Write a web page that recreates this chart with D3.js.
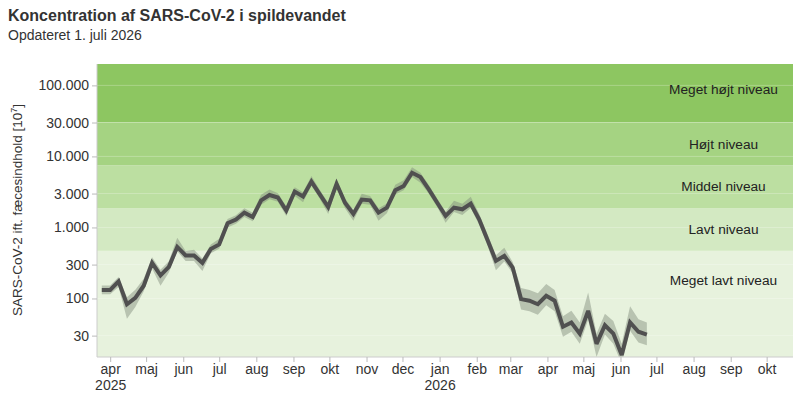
<!DOCTYPE html>
<html><head><meta charset="utf-8">
<script src="https://cdn.jsdelivr.net/npm/d3@7"></script>
<style>body{margin:0;background:#fff;font-family:"Liberation Sans",Arial,sans-serif;}</style>
</head><body><svg id="c" width="800" height="400"></svg>
<script>
const dates = ["2025-03-25","2025-04-01","2025-04-08","2025-04-15","2025-04-22","2025-04-29","2025-05-06","2025-05-13","2025-05-20","2025-05-27","2025-06-03","2025-06-10","2025-06-17","2025-06-24","2025-07-01","2025-07-08","2025-07-15","2025-07-22","2025-07-29","2025-08-05","2025-08-12","2025-08-19","2025-08-26","2025-09-02","2025-09-09","2025-09-16","2025-09-23","2025-09-30","2025-10-07","2025-10-14","2025-10-21","2025-10-28","2025-11-04","2025-11-11","2025-11-18","2025-11-25","2025-12-02","2025-12-09","2025-12-16","2025-12-23","2025-12-30","2026-01-06","2026-01-13","2026-01-20","2026-01-27","2026-02-03","2026-02-10","2026-02-17","2026-02-24","2026-03-03","2026-03-10","2026-03-17","2026-03-24","2026-03-31","2026-04-07","2026-04-14","2026-04-21","2026-04-28","2026-05-05","2026-05-12","2026-05-19","2026-05-26","2026-06-02","2026-06-09","2026-06-16","2026-06-23"];
const values = [132,132,174,83,102,151,317,212,279,532,404,404,317,499,577,1146,1295,1614,1404,2410,2860,2640,1733,3200,2725,4430,2927,1940,4120,2230,1548,2473,2410,1614,1897,3330,3828,5885,5120,3440,2230,1452,1897,1802,2160,1304,667,338,398,272,98,93,83,109,93,40,46,32,67,23,42,32,16,46,34,31];
const upper = [152,152,200,104,133,189,380,254,335,718,465,485,365,574,692,1318,1489,1856,1615,2890,3430,3035,1993,3680,3135,5316,3366,2230,4740,2565,1780,2970,2770,1856,2180,4000,4600,7060,5890,3955,2565,1670,2370,2160,2700,1565,800,406,517,326,140,132,118,160,132,56,67,46,121,32,61,48,23,78,51,46];
const lower = [115,115,145,52,76,126,264,151,232,463,337,337,244,434,502,997,1126,1403,1221,2095,2490,2295,1444,2780,2270,3850,2545,1552,3580,1860,1238,2150,2095,1242,1580,2900,3330,5120,4270,2990,1940,1160,1650,1500,1880,1087,556,250,332,227,70,66,59,80,66,29,34,23,50,15,31,23,12,35,24,22];

const bandNames = ["Meget lavt niveau","Lavt niveau","Middel niveau","Højt niveau","Meget højt niveau"];
const bandLimits = [15,468.75,1875,7500,30000,200000];
const bandColors = ["#e7f2dd","#d3e9c2","#bcdfa1","#a5d382","#8dc661"];
const bandLabelAt = [180,940,3750,15000,88000];

const yTicks = [30,100,300,1000,3000,10000,30000,100000];
const yTickLabels = ["30","100","300","1.000","3.000","10.000","30.000","100.000"];
const monthTicks = ["2025-04-01","2025-05-01","2025-06-01","2025-07-01","2025-08-01","2025-09-01","2025-10-01","2025-11-01","2025-12-01","2026-01-01","2026-02-01","2026-03-01","2026-04-01","2026-05-01","2026-06-01","2026-07-01","2026-08-01","2026-09-01","2026-10-01"];
const monthLabels = ["apr","maj","jun","jul","aug","sep","okt","nov","dec","jan","feb","mar","apr","maj","jun","jul","aug","sep","okt"];
const yearLabels = {"2025-04-01":"2025","2026-01-01":"2026"};
const xDomain = ["2025-03-21","2026-10-23"];

const FONT = "Liberation Sans, Arial, sans-serif";
const parse = d3.utcParse("%Y-%m-%d");
const svg = d3.select("#c");
const L=97, R=793, T=64, B=357;
const x = d3.scaleUtc().domain(xDomain.map(parse)).range([L,R]);
const y = d3.scaleLog().domain([15,200000]).range([B,T]);

const g = svg.append("g");
g.selectAll("rect.band").data(bandColors).join("rect")
  .attr("x",L).attr("width",R-L)
  .attr("y",(c,i)=>y(bandLimits[i+1])).attr("height",(c,i)=>y(bandLimits[i])-y(bandLimits[i+1]))
  .attr("fill",c=>c);
g.selectAll("line.grid").data(yTicks).join("line")
  .attr("x1",L).attr("x2",R).attr("y1",d=>y(d)).attr("y2",d=>y(d))
  .attr("stroke","#ffffff").attr("stroke-opacity",0.25).attr("stroke-width",1);
g.selectAll("text.bl").data(bandNames).join("text")
  .attr("x",723.5).attr("y",(d,i)=>y(bandLabelAt[i])).attr("dy","0.35em")
  .attr("text-anchor","middle").attr("font-size",13.7).attr("fill","#222").text(d=>d);

const data = dates.map((d,i)=>({t:parse(d),v:values[i],lo:lower[i],hi:upper[i]}));
svg.append("clipPath").attr("id","pc").append("rect").attr("x",L).attr("y",T).attr("width",R-L).attr("height",B-T);
const pg = svg.append("g").attr("clip-path","url(#pc)");
pg.append("path").datum(data)
  .attr("d",d3.area().x(d=>x(d.t)).y0(d=>y(d.lo)).y1(d=>y(d.hi)))
  .attr("fill","#7f8a7a").attr("fill-opacity",0.45);
pg.append("path").datum(data)
  .attr("d",d3.line().x(d=>x(d.t)).y(d=>y(d.v)))
  .attr("fill","none").attr("stroke","#505050").attr("stroke-width",4).attr("stroke-linejoin","miter").attr("stroke-miterlimit",3);

const yAxis = d3.axisLeft(y).tickValues(yTicks).tickFormat((d,i)=>yTickLabels[i]).tickSize(5).tickPadding(3);
const ya = svg.append("g").attr("transform",`translate(${L},0)`).call(yAxis);
ya.select(".domain").attr("stroke","#cccccc").attr("d",`M0,${T}V${B}`);
ya.selectAll(".tick line").attr("stroke","#bbbbbb");
ya.selectAll(".tick text").attr("font-size",14).attr("fill","#333").attr("font-family",FONT);

const xAxis = d3.axisBottom(x).tickValues(monthTicks.map(parse)).tickFormat((d,i)=>monthLabels[i]).tickSize(5).tickPadding(2);
const xa = svg.append("g").attr("transform",`translate(0,${B})`).call(xAxis);
xa.select(".domain").attr("stroke","#cccccc").attr("d",`M${L},0H${R}`);
xa.selectAll(".tick line").attr("stroke","#bbbbbb");
xa.selectAll(".tick text").attr("font-size",14).attr("fill","#333").attr("font-family",FONT);
xa.selectAll(".tick").each(function(d,i){
  const lab = yearLabels[monthTicks[i]];
  if(lab) d3.select(this).append("text").attr("y",23).attr("dy","0.71em").attr("fill","#333")
    .attr("font-size",14).attr("text-anchor","middle").attr("font-family",FONT).text(lab);
});

svg.append("text").attr("x",8).attr("y",21).attr("font-size",16).attr("font-weight","bold").attr("fill","#333").text("Koncentration af SARS-CoV-2 i spildevandet");
svg.append("text").attr("x",8).attr("y",40).attr("font-size",14).attr("fill","#333").text("Opdateret 1. juli 2026");
const yl = svg.append("text").attr("transform","translate(22,210) rotate(-90)").attr("text-anchor","middle").attr("font-size",13.5).attr("fill","#333");
yl.append("tspan").text("SARS-CoV-2 ift. fæcesindhold [10");
yl.append("tspan").attr("font-size",9).attr("dy",-5).text("7");
yl.append("tspan").attr("dy",5).text("]");
</script></body></html>
